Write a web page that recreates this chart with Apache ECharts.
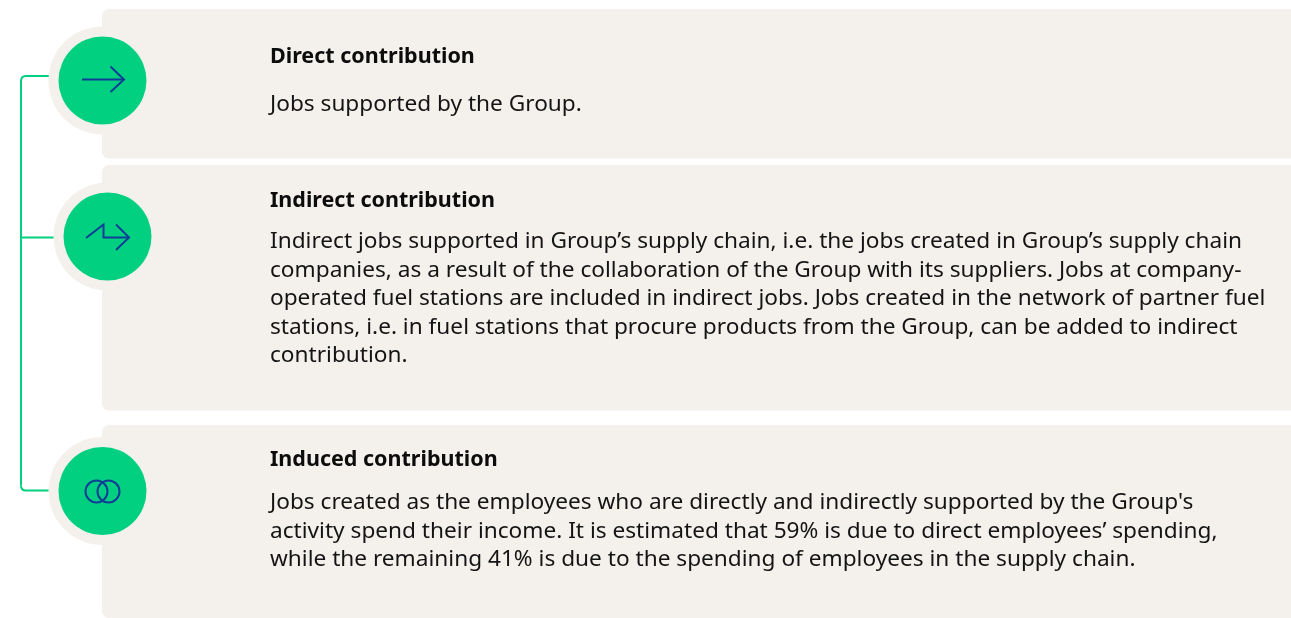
<!DOCTYPE html>
<html>
<head>
<meta charset="utf-8">
<style>
html, body { margin: 0; padding: 0; background: #fff; }
#main { width: 1291px; height: 618px; }
</style>
<script src="https://cdn.jsdelivr.net/npm/echarts@6/dist/echarts.min.js"></script>
</head>
<body>
<div id="main"></div>
<script>
var titles = ['Direct contribution', 'Indirect contribution', 'Induced contribution'];
var directLines = ['Jobs supported by the Group.'];
var indirectLines = [
    'Indirect jobs supported in Group\u2019s supply chain, i.e. the jobs created in Group\u2019s supply chain',
    'companies, as a result of the collaboration of the Group with its suppliers. Jobs at company-',
    'operated fuel stations are included in indirect jobs. Jobs created in the network of partner fuel',
    'stations, i.e. in fuel stations that procure products from the Group, can be added to indirect',
    'contribution.'
];
var inducedLines = [
    'Jobs created as the employees who are directly and indirectly supported by the Group\'s',
    'activity spend their income. It is estimated that 59% is due to direct employees\u2019 spending,',
    'while the remaining 41% is due to the spending of employees in the supply chain.'
];

var bodies = [directLines, indirectLines, inducedLines];
// layout
var cardTop = [9, 165, 425];
var cardBottom = [158.5, 410.5, 618];
var circleX = [102.5, 107.5, 102.5];
var circleY = [80.5, 236.5, 491];
var titleY = [56.5, 200.5, 459.5];
var bodyY = [104.5, 241.5, 502.5];
var lineGap = 28.6;
var fontName = '"Noto Sans", sans-serif';

var GREEN = '#00d07f';
var CARD = '#f4f1ed';
var BLUE = '#0f3d97';
var iconLine = { stroke: BLUE, lineWidth: 2, fill: null };
var connLine = { stroke: GREEN, lineWidth: 2, fill: null };

var els = [];
titles.forEach(function (t, i) {
    els.push({
        type: 'rect', z: 1,
        shape: { x: 102, y: cardTop[i], width: 1189, height: cardBottom[i] - cardTop[i], r: [7, 0, 0, 7] },
        style: { fill: CARD }
    });
    els.push({ type: 'circle', z: 2, shape: { cx: circleX[i], cy: circleY[i], r: 54 }, style: { fill: CARD } });
    els.push({ type: 'circle', z: 3, shape: { cx: circleX[i], cy: circleY[i], r: 44 }, style: { fill: GREEN } });
    els.push({
        type: 'text', z: 4, x: 270, y: titleY[i],
        style: { text: t, font: '700 21.5px ' + fontName, fill: '#0c0c0c', verticalAlign: 'middle' }
    });
    bodies[i].forEach(function (line, k) {
        els.push({
            type: 'text', z: 4, x: 270, y: bodyY[i] + k * lineGap,
            style: { text: line, font: '400 22.65px ' + fontName, fill: '#141414', verticalAlign: 'middle' }
        });
    });
});

// connector
els.push({ type: 'polyline', z: 0, shape: { points: [[49, 76], [26, 76]] }, style: connLine });
els.push({ type: 'bezierCurve', z: 0, shape: { x1: 26, y1: 76, cpx1: 21, cpy1: 76, x2: 21, y2: 81 }, style: connLine });
els.push({ type: 'polyline', z: 0, shape: { points: [[21, 81], [21, 485.5]] }, style: connLine });
els.push({ type: 'bezierCurve', z: 0, shape: { x1: 21, y1: 485.5, cpx1: 21, cpy1: 490.5, x2: 26, y2: 490.5 }, style: connLine });
els.push({ type: 'polyline', z: 0, shape: { points: [[26, 490.5], [49, 490.5]] }, style: connLine });
els.push({ type: 'polyline', z: 0, shape: { points: [[21, 237.5], [54, 237.5]] }, style: connLine });

// icons
els.push({ type: 'polyline', z: 5, shape: { points: [[82, 79.5], [124, 79.5]] }, style: iconLine });
els.push({ type: 'polyline', z: 5, shape: { points: [[110.5, 66.5], [124, 79.5], [110.5, 92]] }, style: iconLine });
els.push({ type: 'polyline', z: 5, shape: { points: [[86, 238], [103.5, 224.5], [103.5, 237.5], [129, 237.5]] }, style: iconLine });
els.push({ type: 'polyline', z: 5, shape: { points: [[116, 224.5], [129, 237.5], [116, 250]] }, style: iconLine });
els.push({ type: 'circle', z: 5, shape: { cx: 96.5, cy: 491.5, r: 11 }, style: iconLine });
els.push({ type: 'circle', z: 5, shape: { cx: 108.5, cy: 491.5, r: 11 }, style: iconLine });

var myChart = echarts.init(document.getElementById('main'));
myChart.setOption({
    backgroundColor: '#fff',
    animation: false,
    graphic: { elements: els }
});
</script>
</body>
</html>
